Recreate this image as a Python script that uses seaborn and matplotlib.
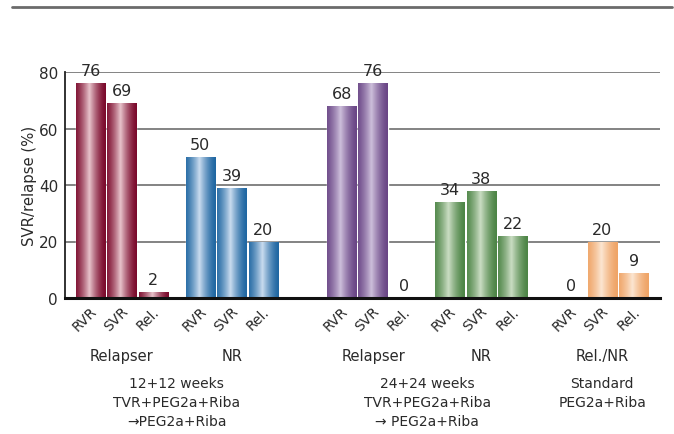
import numpy as np
import pandas as pd
import matplotlib
matplotlib.use("Agg")
import matplotlib.pyplot as plt
import matplotlib.transforms as mtransforms
from matplotlib.lines import Line2D
from matplotlib.colors import to_rgb
import seaborn as sns

# data
measures = ["RVR", "SVR", "Rel."]
groups = ["Relapser", "NR", "Relapser", "NR", "Rel./NR"]
values = [
    [76, 69, 2],
    [50, 39, 20],
    [68, 76, 0],
    [34, 38, 22],
    [0, 20, 9],
]
regimens = [
    "12+12 weeks\nTVR+PEG2a+Riba\n\u2192PEG2a+Riba",
    "24+24 weeks\nTVR+PEG2a+Riba\n\u2192 PEG2a+Riba",
    "Standard\nPEG2a+Riba",
]
regimen_groups = [(0, 1), (2, 3), (4,)]

# bar edge (dark) and centre (light) colours per group
dark = ["#7b0a2c", "#2067a2", "#6a4686", "#4d8546", "#efa466"]
light = ["#e8c4cc", "#cadcef", "#cdbfdb", "#cbddc4", "#fce6d2"]

# layout: where each group of three bars starts (in bar slots)
group_start = [0, 3.5, 8.0, 11.45, 15.3]

rows = []
for g, (start, vals) in enumerate(zip(group_start, values)):
    for i, (m, v) in enumerate(zip(measures, vals)):
        rows.append({"pos": start + i, "value": v, "measure": m, "group": g})
df = pd.DataFrame(rows)

sns.set_style("white")
plt.rcParams["font.family"] = ["DejaVu Sans"]
txt = "#2a2a2a"

fig = plt.figure(figsize=(6.74, 4.35), dpi=100)
ax = fig.add_axes([65 / 674, 1 - 299 / 435, 595 / 674, 226 / 435])

sns.barplot(data=df, x="pos", y="value", hue="group", palette=dark,
            native_scale=True, dodge=False, width=0.93, legend=False,
            saturation=1, ax=ax, zorder=3)

# horizontal gradient on each bar
t = np.linspace(0, 1, 64)
mix = np.clip(1 - np.abs(t - 0.45) / 0.55, 0, 1) ** 1.5
dark_rgb = {tuple(np.round(to_rgb(c), 3)): i for i, c in enumerate(dark)}
for p in list(ax.patches):
    h = p.get_height()
    if h <= 0:
        continue
    key = tuple(np.round(p.get_facecolor()[:3], 3))
    gi = dark_rgb.get(key, 0)
    c0 = np.array(to_rgb(dark[gi]))
    c1 = np.array(to_rgb(light[gi]))
    img = (c0[None, :] * (1 - mix[:, None]) + c1[None, :] * mix[:, None])[None, :, :]
    x0 = p.get_x()
    im = ax.imshow(img, extent=[x0, x0 + p.get_width(), 0, h], aspect="auto",
                   zorder=4, interpolation="bilinear")
    im.set_clip_path(p)

# value labels
for _, r in df.iterrows():
    ax.annotate(f"{r['value']}", (r["pos"], r["value"]), xytext=(0, 3.5),
                textcoords="offset points", ha="center", va="bottom",
                fontsize=11.5, color=txt, annotation_clip=False)

ax.set_xlim(-0.81, 18.14)
ax.set_ylim(0, 80)
ax.set_yticks([0, 20, 40, 60, 80])
ax.yaxis.grid(True, color="#7a7a7a", lw=1.3, zorder=0)
ax.set_axisbelow(True)
for s in ["top", "right"]:
    ax.spines[s].set_visible(False)
ax.spines["left"].set_color("#222222")
ax.spines["left"].set_linewidth(1.3)
ax.spines["bottom"].set_color("#111111")
ax.spines["bottom"].set_linewidth(2.2)
ax.spines["left"].set_zorder(5)
ax.spines["bottom"].set_zorder(5)

ax.set_xticks(df["pos"])
ax.set_xticklabels(df["measure"])
ax.tick_params(axis="both", length=0, labelsize=10, colors=txt)
ax.tick_params(axis="y", pad=5, labelsize=11)
offset = mtransforms.ScaledTranslation(4 / 100, -6 / 100, fig.dpi_scale_trans)
for lab in ax.get_xticklabels():
    lab.set_rotation(45)
    lab.set_ha("right")
    lab.set_va("center")
    lab.set_rotation_mode("anchor")
    lab.set_transform(lab.get_transform() + offset)

ax.set_xlabel("")
ax.set_ylabel("SVR/relapse (%)", fontsize=10.7, color=txt, labelpad=1)

# group and regimen labels under the axis
trans = mtransforms.blended_transform_factory(ax.transData, fig.transFigure)
for start, name in zip(group_start, groups):
    ax.text(start + 1, 1 - 357 / 435, name, transform=trans, ha="center",
            va="center", fontsize=10.5, color=txt)
for text, gs in zip(regimens, regimen_groups):
    xc = np.mean([group_start[g] + 1 for g in gs])
    ax.text(xc, 1 - 377 / 435, text, transform=trans, ha="center", va="top",
            fontsize=10, color=txt, linespacing=1.45)

# header rule
fig.add_artist(Line2D([12 / 674, 672 / 674], [1 - 8 / 435] * 2,
                      color="#6b6b6b", lw=2))

fig.savefig("out.png", dpi=100)
